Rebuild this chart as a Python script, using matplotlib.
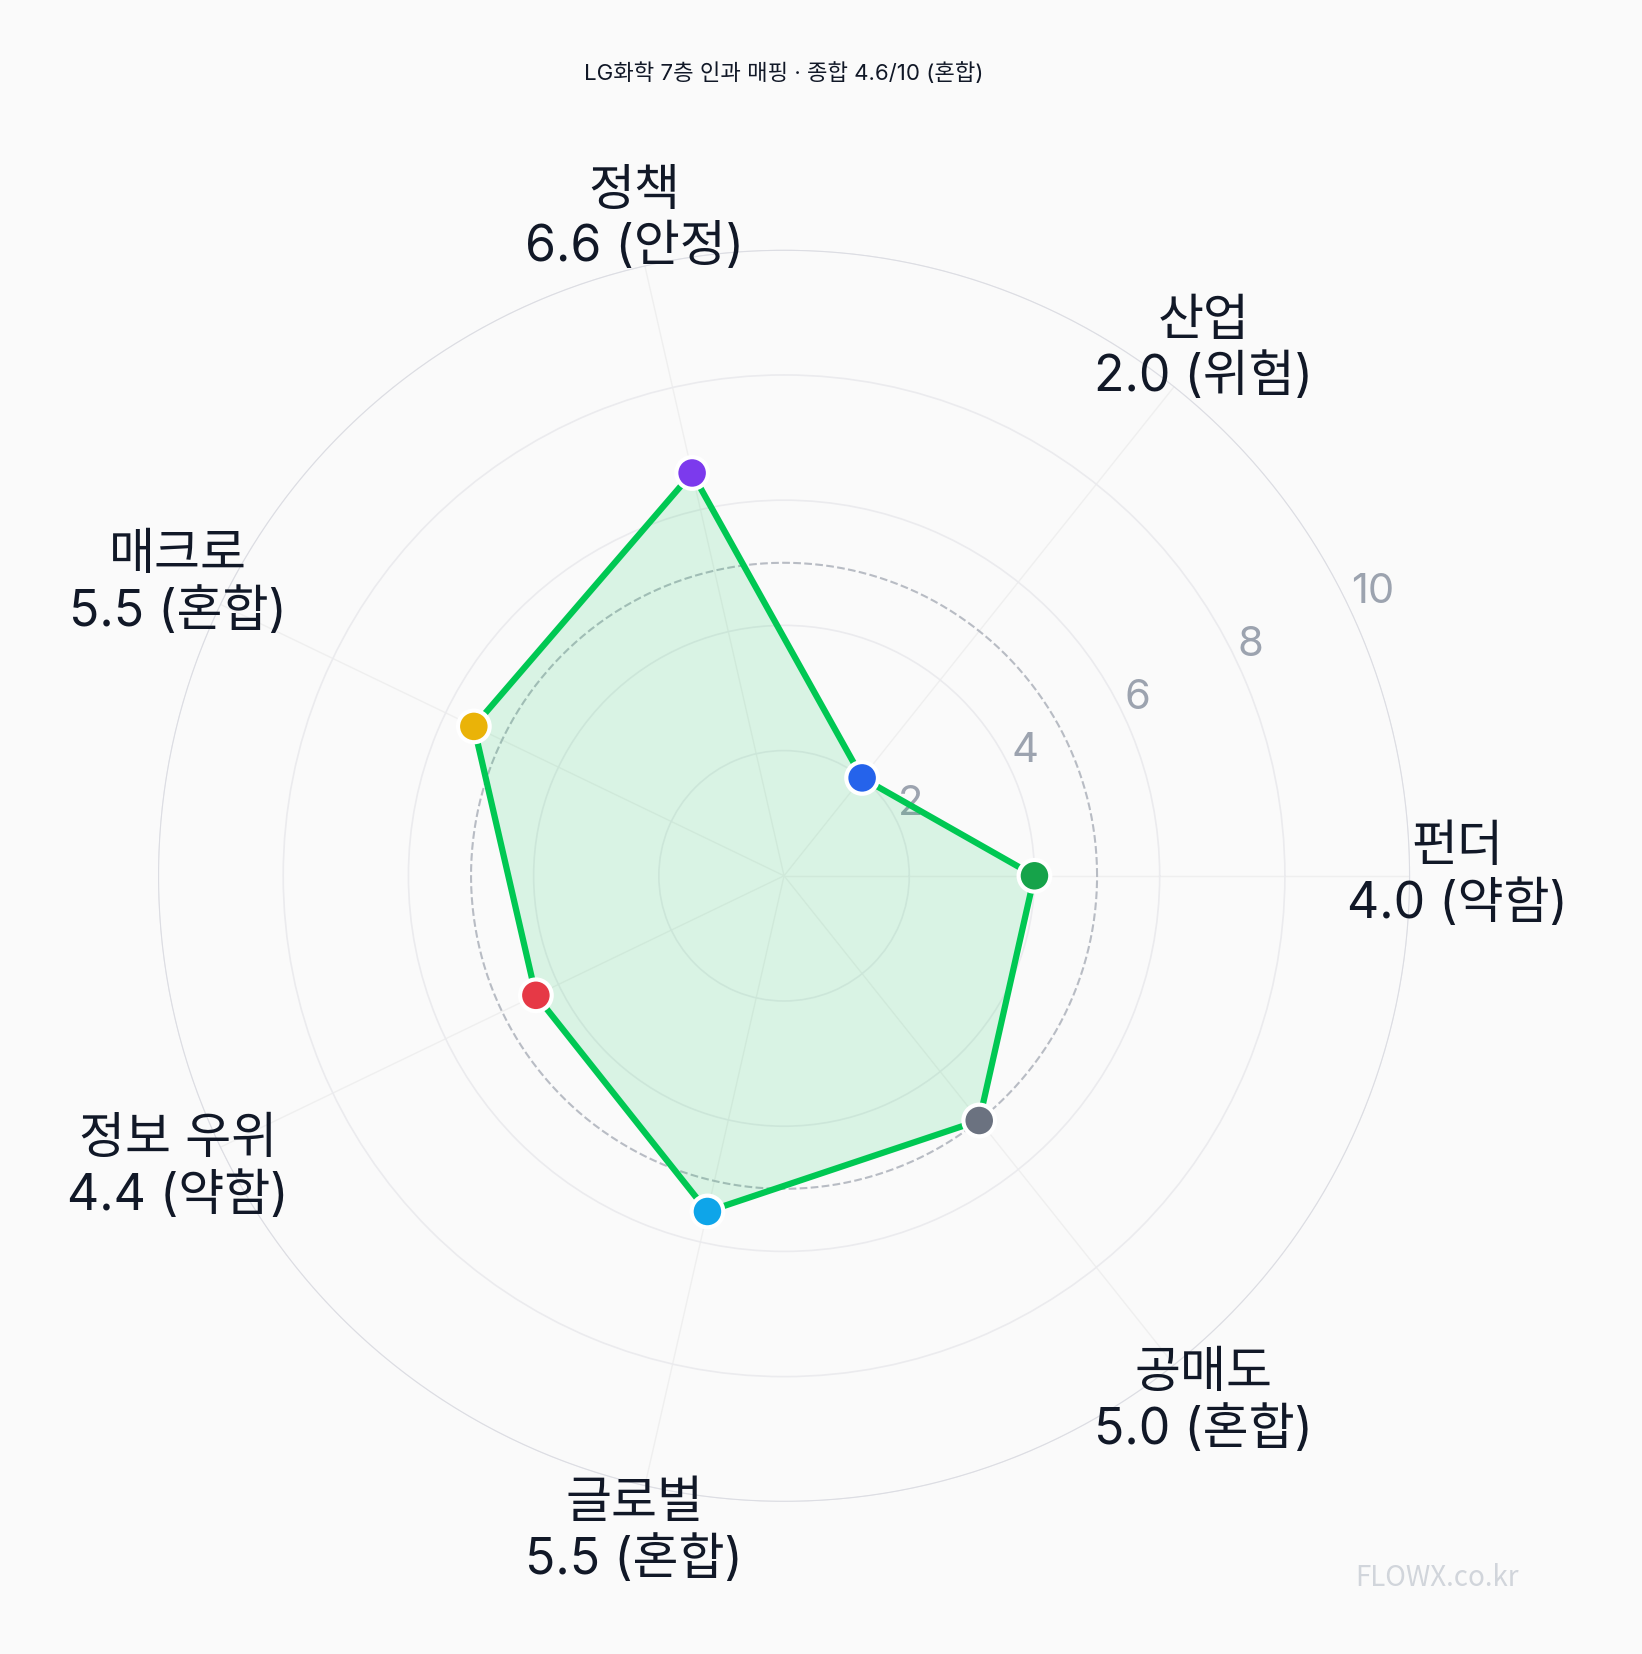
import numpy as np
import matplotlib
matplotlib.use("Agg")
import matplotlib.pyplot as plt

plt.rcParams['font.family'] = ['Noto Sans CJK KR', 'DejaVu Sans']

labels = ["펀더", "산업", "정책", "매크로", "정보 우위", "글로벌", "공매도"]
values = [4.0, 2.0, 6.6, 5.5, 4.4, 5.5, 5.0]
status = ["약함", "위험", "안정", "혼합", "약함", "혼합", "혼합"]
colors = ["#16a34a", "#2563eb", "#7c3aed", "#eab308", "#e63946", "#0ea5e9", "#6b7280"]

n = len(labels)
angles = np.arange(n) * 2 * np.pi / n

fig = plt.figure(figsize=(16.42, 16.54), dpi=100, facecolor="#fafafa")
ax = fig.add_axes([0.096, 0.092, 0.763, 0.757], projection="polar")
ax.set_facecolor("#fafafa")
ax.set_ylim(0, 10)
ax.spines["polar"].set_visible(False)
ax.set_xticks(angles)
ax.set_xticklabels([])
ax.set_yticks([2, 4, 6, 8, 10])
ax.set_yticklabels(["2", "4", "6", "8", "10"], fontsize=30, color="#9ca3af",
                   family=["Inter", "DejaVu Sans"])
ax.set_rlabel_position(25)
ax.xaxis.grid(color="#efefef", linewidth=1)
ax.yaxis.grid(color="#ebebee", linewidth=1.2)

t = np.linspace(0, 2 * np.pi, 400)
ax.plot(t, np.full_like(t, 10), color="#dcdde3", linewidth=1.6)
ax.plot(t, np.full_like(t, 5), color="#b8bcc4", linestyle="--", linewidth=1.5)

a = np.append(angles, angles[0])
v = np.append(values, values[0])
ax.fill(a, v, color="#00c853", alpha=0.13, zorder=2)
ax.plot(a, v, color="#00c853", linewidth=4.5, zorder=3)
ax.scatter(angles, values, s=520, c=colors, edgecolors="white", linewidths=3, zorder=4)

for ang, lab, val, st in zip(angles, labels, values, status):
    ax.text(ang, 10.75, f"{lab}\n{val:.1f} ({st})", ha="center", va="center",
            fontsize=36, color="#111827", linespacing=1.2,
            family=["Inter", "Noto Sans CJK KR"])

fig.text(0.4775, 0.956, "LG화학 7층 인과 매핑 · 종합 4.6/10 (혼합)", ha="center", va="center",
         fontsize=16, color="#111827", family=["Inter", "Noto Sans CJK KR"])
fig.text(0.875, 0.046, "FLOWX.co.kr", ha="center", va="center", fontsize=20, color="#d1d5db")

fig.savefig("out.png", dpi=100, facecolor=fig.get_facecolor())
